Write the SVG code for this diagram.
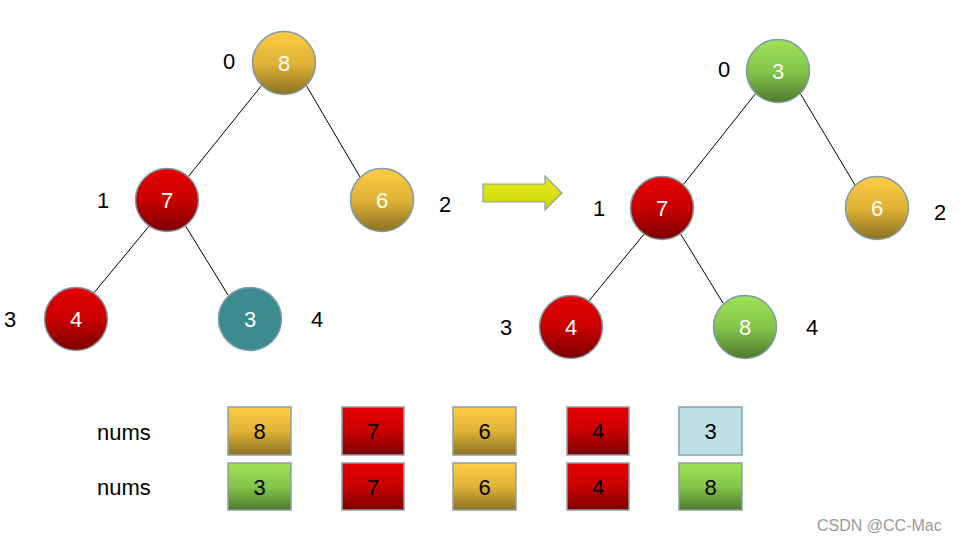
<svg xmlns="http://www.w3.org/2000/svg" width="970" height="542" viewBox="0 0 970 542">
<defs>
<linearGradient id="gy" x1="0" y1="0" x2="0" y2="1"><stop offset="0" stop-color="#fdcd43"/><stop offset="0.5" stop-color="#e0b236"/><stop offset="1" stop-color="#8c7122"/></linearGradient>
<linearGradient id="gr" x1="0" y1="0" x2="0" y2="1"><stop offset="0" stop-color="#e60000"/><stop offset="0.5" stop-color="#c80000"/><stop offset="1" stop-color="#7c0000"/></linearGradient>
<linearGradient id="gg" x1="0" y1="0" x2="0" y2="1"><stop offset="0" stop-color="#9de255"/><stop offset="0.5" stop-color="#84c64a"/><stop offset="1" stop-color="#4e7a2c"/></linearGradient>
<linearGradient id="ga" x1="0" y1="0" x2="0" y2="1"><stop offset="0" stop-color="#e8ee22"/><stop offset="1" stop-color="#c9d400"/></linearGradient>
</defs>
<style>
.n{stroke:#7f9aa8;stroke-width:1.5}
.b{stroke:#8aa0ab;stroke-width:1.5}
.w{font-family:"Liberation Sans",Arial,sans-serif;font-size:22px;fill:#fff;text-anchor:middle;dominant-baseline:central}
.k{font-family:"Liberation Sans",Arial,sans-serif;font-size:22px;fill:#000;text-anchor:middle;dominant-baseline:central}
.l{font-family:"Liberation Sans",Arial,sans-serif;font-size:22px;fill:#000;dominant-baseline:central}
line{stroke:#000;stroke-width:1}
</style>
<rect width="970" height="542" fill="#fff"/>
<g id="connectors">
<line x1="262" y1="85" x2="188" y2="177"/>
<line x1="306" y1="85" x2="360" y2="177"/>
<line x1="150" y1="225" x2="93" y2="294"/>
<line x1="185" y1="225" x2="228" y2="295"/>
<line x1="756" y1="93" x2="683" y2="185"/>
<line x1="800" y1="93" x2="855" y2="185"/>
<line x1="645" y1="233" x2="588" y2="302"/>
<line x1="680" y1="233" x2="723" y2="303"/>
</g>
<g id="left-tree">
<g id="L0"><circle class="n" cx="284" cy="63" r="31.5" fill="url(#gy)"/><text class="w" x="284" y="63">8</text><text class="l" x="223" y="61">0</text></g>
<g id="L1"><circle class="n" cx="167" cy="200" r="31.5" fill="url(#gr)"/><text class="w" x="167" y="200">7</text><text class="l" x="97" y="200">1</text></g>
<g id="L2"><circle class="n" cx="382" cy="200" r="31.5" fill="url(#gy)"/><text class="w" x="382" y="200">6</text><text class="l" x="439" y="204">2</text></g>
<g id="L3"><circle class="n" cx="76" cy="319" r="31.5" fill="url(#gr)"/><text class="w" x="76" y="319">4</text><text class="l" x="4" y="319">3</text></g>
<g id="L4"><circle class="n" cx="250" cy="319" r="31.5" fill="#3d8b8f"/><text class="w" x="250" y="319">3</text><text class="l" x="311" y="319">4</text></g>
</g>
<g id="arrow"><polygon points="483,184 545,184 545,176 562,193 545,210 545,202 483,202" fill="url(#ga)" stroke="#8aa0ab" stroke-width="1.2"/></g>
<g id="right-tree">
<g id="R0"><circle class="n" cx="778" cy="71" r="31.5" fill="url(#gg)"/><text class="w" x="778" y="71">3</text><text class="l" x="718" y="69">0</text></g>
<g id="R1"><circle class="n" cx="662" cy="208" r="31.5" fill="url(#gr)"/><text class="w" x="662" y="208">7</text><text class="l" x="593" y="208">1</text></g>
<g id="R2"><circle class="n" cx="877" cy="208" r="31.5" fill="url(#gy)"/><text class="w" x="877" y="208">6</text><text class="l" x="934" y="212">2</text></g>
<g id="R3"><circle class="n" cx="571" cy="327" r="31.5" fill="url(#gr)"/><text class="w" x="571" y="327">4</text><text class="l" x="500" y="327">3</text></g>
<g id="R4"><circle class="n" cx="745" cy="327" r="31.5" fill="url(#gg)"/><text class="w" x="745" y="327">8</text><text class="l" x="806" y="327">4</text></g>
</g>
<g id="array1">
<text class="l" x="97" y="432">nums</text>
<rect class="b" x="228" y="407" width="63" height="48" fill="url(#gy)"/><text class="k" x="259.5" y="431">8</text>
<rect class="b" x="342" y="407" width="62" height="48" fill="url(#gr)"/><text class="k" x="373" y="431">7</text>
<rect class="b" x="453" y="407" width="63" height="48" fill="url(#gy)"/><text class="k" x="484.5" y="431">6</text>
<rect class="b" x="567" y="407" width="62" height="48" fill="url(#gr)"/><text class="k" x="598" y="431">4</text>
<rect class="b" x="679" y="407" width="63" height="48" fill="#bce0e4"/><text class="k" x="710.5" y="431">3</text>
</g>
<g id="array2">
<text class="l" x="97" y="487">nums</text>
<rect class="b" x="228" y="463" width="63" height="47" fill="url(#gg)"/><text class="k" x="259.5" y="487">3</text>
<rect class="b" x="342" y="463" width="62" height="47" fill="url(#gr)"/><text class="k" x="373" y="487">7</text>
<rect class="b" x="453" y="463" width="63" height="47" fill="url(#gy)"/><text class="k" x="484.5" y="487">6</text>
<rect class="b" x="567" y="463" width="62" height="47" fill="url(#gr)"/><text class="k" x="598" y="487">4</text>
<rect class="b" x="679" y="463" width="63" height="47" fill="url(#gg)"/><text class="k" x="710.5" y="487">8</text>
</g>
<text x="817" y="531" font-family="'Liberation Sans',Arial,sans-serif" font-size="16" fill="#9a9a9a">CSDN @CC-Mac</text>
</svg>
